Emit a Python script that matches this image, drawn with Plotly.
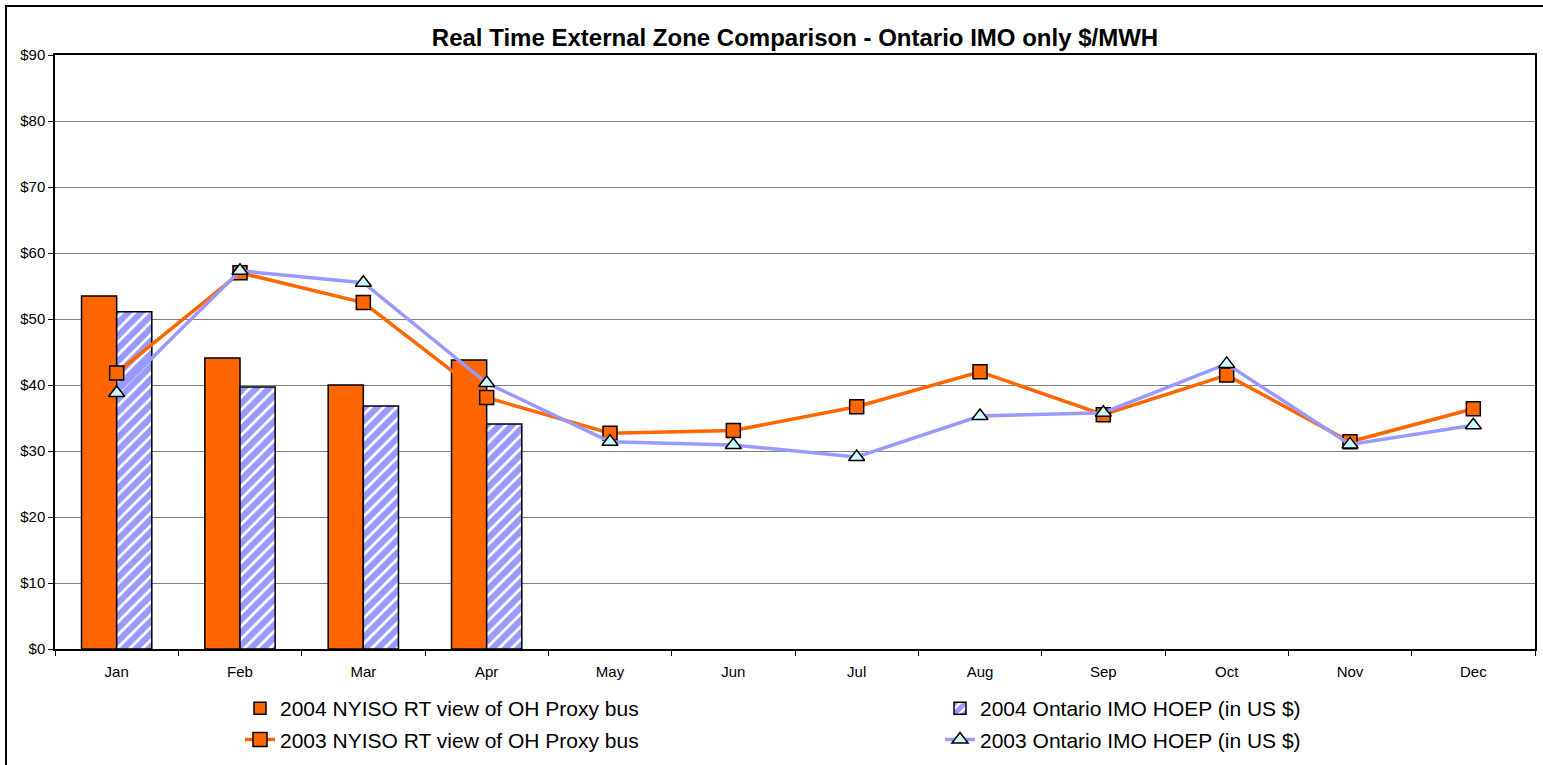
import plotly.graph_objects as go

months = ["Jan", "Feb", "Mar", "Apr", "May", "Jun", "Jul", "Aug", "Sep", "Oct", "Nov", "Dec"]
nyiso_2004 = [53.5, 44.1, 40.0, 43.8]
ontario_2004 = [51.1, 39.7, 36.8, 34.1]
nyiso_2003 = [41.8, 57.0, 52.5, 38.1, 32.7, 33.1, 36.7, 42.0, 35.5, 41.5, 31.4, 36.4]
ontario_2003 = [38.8, 57.3, 55.5, 40.3, 31.4, 30.9, 29.1, 35.3, 35.8, 43.2, 31.0, 33.9]
y_ticks = list(range(0, 100, 10))
y_labels = [f"${v}" for v in y_ticks]

ORANGE = "#FF6600"
PERI = "#9999FF"
CYAN = "#CCFFFF"
FONT = "Liberation Sans, Arial, sans-serif"

fig = go.Figure()
fig.add_trace(go.Bar(
    x=months[:len(nyiso_2004)], y=nyiso_2004, name="2004 NYISO RT view of OH Proxy bus",
    marker=dict(color=ORANGE, line=dict(color="black", width=1.5)),
    legend="legend", legendgroup="a",
))
fig.add_trace(go.Bar(
    x=months[:len(ontario_2004)], y=ontario_2004, name="2004 Ontario IMO HOEP (in US $)",
    marker=dict(color=PERI, line=dict(color="black", width=1.5),
                pattern=dict(shape="/", bgcolor="white", fgcolor=PERI, fgopacity=1, size=9, solidity=0.7)),
    legend="legend2", legendgroup="c",
))
fig.add_trace(go.Scatter(
    x=months, y=nyiso_2003, name="2003 NYISO RT view of OH Proxy bus", mode="lines+markers",
    line=dict(color=ORANGE, width=3.5),
    marker=dict(symbol="square", size=14, color=ORANGE, line=dict(color="black", width=1.5)),
    legend="legend", legendgroup="b",
))
fig.add_trace(go.Scatter(
    x=months, y=ontario_2003, name="2003 Ontario IMO HOEP (in US $)", mode="lines+markers",
    line=dict(color=PERI, width=3.5),
    marker=dict(symbol="triangle-up", size=14, color=CYAN, line=dict(color="black", width=1.5)),
    legend="legend2", legendgroup="d",
))

L, R, T, B = 55, 8, 55, 116
W, H = 1543, 765
pw = W - L - R
ph = H - T - B

leg_common = dict(orientation="v", yanchor="top", font=dict(size=21, family=FONT),
                  tracegroupgap=1, traceorder="grouped", bgcolor="rgba(0,0,0,0)")
leg_y = -(688 - T - ph) / ph

fig.update_layout(
    width=W, height=H,
    margin=dict(l=L, r=R, t=T, b=B, autoexpand=False),
    paper_bgcolor="white", plot_bgcolor="white",
    font=dict(family=FONT, color="black", size=15),
    barmode="group", bargap=0.43, bargroupgap=0,
    title=dict(text="<b>Real Time External Zone Comparison - Ontario IMO only $/MWH</b>",
               x=0.5, xref="paper", xanchor="center", y=1 - 38 / H, yanchor="middle",
               font=dict(size=24, family=FONT)),
    xaxis=dict(categoryorder="array", categoryarray=months, range=[-0.5, 11.5],
               showline=True, linecolor="black", linewidth=1.5, mirror=True,
               ticks="outside", tickson="boundaries", ticklen=5, tickcolor="black",
               tickfont=dict(size=15), ticklabelstandoff=8, showgrid=False),
    yaxis=dict(range=[0, 90], tickvals=y_ticks, ticktext=y_labels,
               showline=True, linecolor="black", linewidth=1.5, mirror=True,
               ticks="outside", ticklen=5, tickcolor="black",
               showgrid=True, gridcolor="#808080", gridwidth=1,
               tickfont=dict(size=15), zeroline=False),
    legend=dict(x=(240 - L) / pw, y=leg_y, xanchor="left", **leg_common),
    legend2=dict(x=(940 - L) / pw, y=leg_y, xanchor="left", **leg_common),
    shapes=[dict(type="rect", xref="paper", yref="paper",
                 x0=(6 - L) / pw, x1=(W + 5 - L) / pw,
                 y0=-(H + 5 - T - ph) / ph, y1=1 + (T - 6) / ph,
                 line=dict(color="black", width=2), layer="below")],
)

fig.write_html("out.html", config={"displayModeBar": False},
               post_script="document.body.style.margin='0px';")
